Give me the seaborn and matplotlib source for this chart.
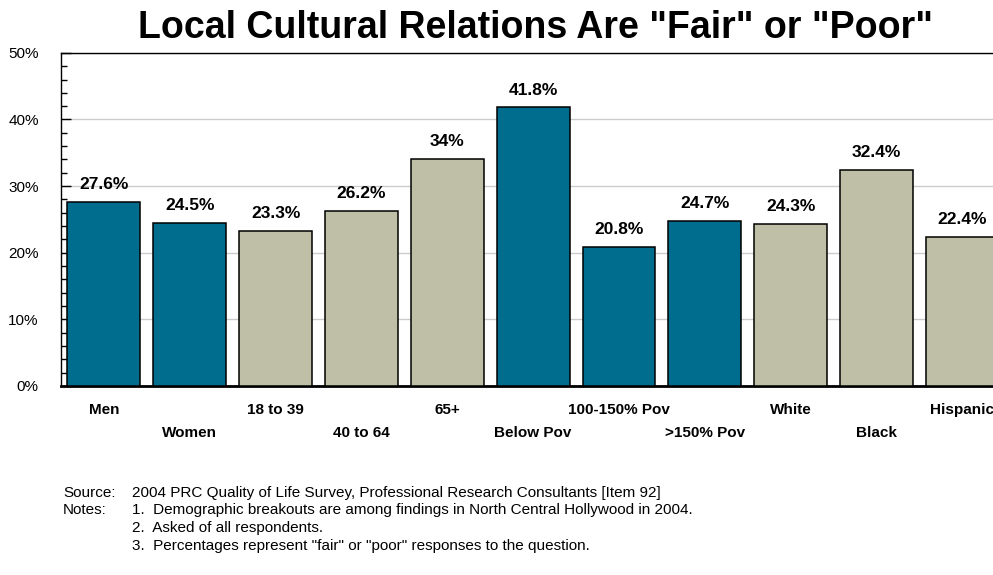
import matplotlib
matplotlib.use("Agg")
import matplotlib.pyplot as plt
import seaborn as sns
import pandas as pd
from matplotlib.ticker import MultipleLocator

# data
groups = ["Men", "Women", "18 to 39", "40 to 64", "65+", "Below Pov",
          "100-150% Pov", ">150% Pov", "White", "Black", "Hispanic"]
values = [27.6, 24.5, 23.3, 26.2, 34.0, 41.8, 20.8, 24.7, 24.3, 32.4, 22.4]
value_labels = ["27.6%", "24.5%", "23.3%", "26.2%", "34%", "41.8%",
                "20.8%", "24.7%", "24.3%", "32.4%", "22.4%"]
kind = ["gender", "gender", "age", "age", "age", "poverty",
        "poverty", "poverty", "race", "race", "race"]
yticks = [0, 10, 20, 30, 40, 50]

teal = "#006C8E"
khaki = "#BFBFA8"
colors = {"gender": teal, "age": khaki, "poverty": teal, "race": khaki}

df = pd.DataFrame({"group": groups, "value": values, "kind": kind})

sns.set_style("white")
plt.rcParams["font.family"] = ["Liberation Sans", "DejaVu Sans"]
plt.rcParams["text.color"] = "black"
plt.rcParams["ytick.color"] = "black"

fig = plt.figure(figsize=(9.93, 5.75), dpi=100)
ax = fig.add_axes([0.0614, 0.329, 0.951, 0.579])

sns.barplot(data=df, x="group", y="value", hue="kind", palette=colors,
            dodge=False, width=0.85, edgecolor="black", linewidth=1.1,
            saturation=1, legend=False, ax=ax, zorder=3)

ax.set_yticks(yticks)
ax.set_yticklabels([f"{t}%" for t in yticks], fontsize=11)
ax.yaxis.set_minor_locator(MultipleLocator(2))
ax.set_xlim(-0.5, len(groups) - 0.5)
ax.set_ylim(0, 50)
ax.tick_params(axis="y", which="major", direction="in", length=7, width=1,
               pad=16, left=True)
ax.tick_params(axis="y", which="minor", direction="in", length=4, width=1,
               left=True)
ax.yaxis.grid(True, color="#cccccc", linewidth=1, zorder=0)
ax.set_axisbelow(True)

# staggered category labels
ax.set_xticks(range(len(groups)))
ax.set_xticklabels([])
ax.tick_params(axis="x", length=0)
for i, g in enumerate(groups):
    y = -3.6 if i % 2 == 0 else -7.05
    ax.text(i, y, g, ha="center", va="center", fontsize=11,
            fontweight="bold", clip_on=False)

for i, (v, lab) in enumerate(zip(values, value_labels)):
    ax.text(i, v + 1.5, lab, ha="center", va="bottom", fontsize=12.5,
            fontweight="bold")

for side in ["left", "top"]:
    ax.spines[side].set_color("black")
    ax.spines[side].set_linewidth(1)
ax.spines["bottom"].set_color("black")
ax.spines["bottom"].set_linewidth(2)
ax.spines["right"].set_visible(False)
ax.set_xlabel("")
ax.set_ylabel("")

fig.text(0.539, 0.951, 'Local Cultural Relations Are "Fair" or "Poor"',
         ha="center", va="center", fontsize=27, fontweight="bold")

notes = [
    (0.0634, 0.143, "Source:"), (0.133, 0.143, "2004 PRC Quality of Life Survey, Professional Research Consultants [Item 92]"),
    (0.0634, 0.113, "Notes:"), (0.133, 0.113, "1.  Demographic breakouts are among findings in North Central Hollywood in 2004."),
    (0.133, 0.082, "2.  Asked of all respondents."),
    (0.133, 0.051, "3.  Percentages represent \"fair\" or \"poor\" responses to the question."),
]
for x, y, t in notes:
    fig.text(x, y, t, ha="left", va="center", fontsize=11)

fig.savefig("out.png", dpi=100)
